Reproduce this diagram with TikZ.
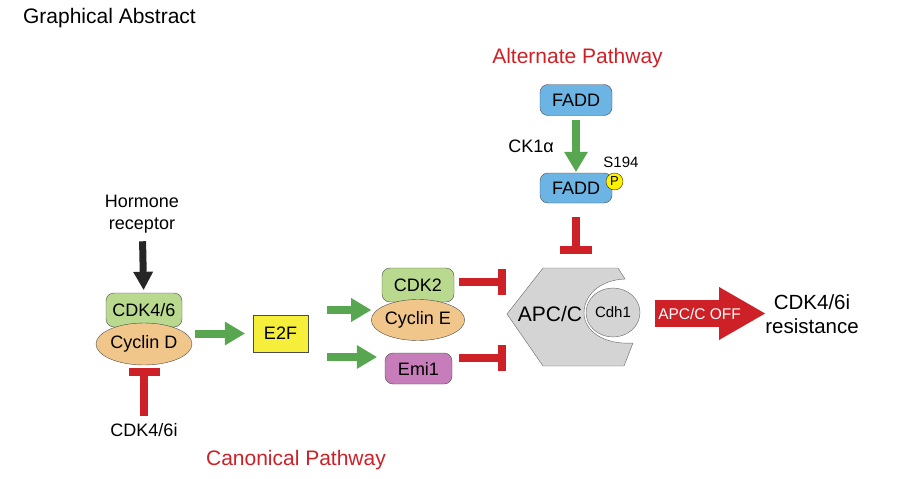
\documentclass[tikz,border=0pt]{standalone}
\usepackage{fontspec}
\setmainfont{Liberation Sans}
\usetikzlibrary{arrows.meta,positioning,calc,shapes.geometric}
\definecolor{inhred}{HTML}{CE2027}
\definecolor{actgreen}{HTML}{58A650}
\definecolor{faddblue}{HTML}{6CB4E4}
\definecolor{cdkgreen}{HTML}{B9D98F}
\definecolor{cycorange}{HTML}{F1C68A}
\definecolor{e2fyellow}{HTML}{F5EE3B}
\definecolor{emipurple}{HTML}{C67DB9}
\definecolor{apcgray}{HTML}{D4D4D4}
\tikzset{
  prot/.style={draw=black!70,rounded corners=8pt,minimum width=72pt,minimum height=31pt,inner sep=0pt,font=\fontsize{18}{22}\selectfont},
  cyc/.style={draw=black!70,ellipse,fill=cycorange,minimum width=94pt,minimum height=42pt,inner sep=0pt,font=\fontsize{18}{22}\selectfont},
  lbl/.style={inner sep=0pt,align=center,font=\fontsize{18}{22}\selectfont},
  head/.style={inner sep=0pt,text=inhred,font=\fontsize{21}{25}\selectfont},
  act/.style={draw=actgreen,line width=8pt,-{Triangle[length=20pt,width=24pt,line width=0pt]}},
  inh/.style={draw=inhred,line width=8pt,-{Rectangle[length=8pt,width=#1,line width=0pt]}},
  inh/.default=26pt
}

\begin{document}
\begin{tikzpicture}[x=1pt,y=-1pt]
\useasboundingbox (0,0) rectangle (900,479);

\node[inner sep=0pt,font=\fontsize{21}{25}\selectfont] (title) at (109.5,18) {Graphical Abstract};

% alternate pathway
\node[head] (althead) at (577.5,58) {Alternate Pathway};
\node[prot,fill=faddblue] (fadd1) at (576,100) {FADD};
\node[prot,fill=faddblue,minimum height=30pt] (fadd2) at (576,188) {FADD};
\node[draw=black!80,circle,fill=yellow,minimum size=17pt,inner sep=0pt,font=\fontsize{13}{14}\selectfont] (phos) at (614.5,181.5) {P};
\node[inner sep=0pt,font=\fontsize{15}{18}\selectfont] (site) at (621,162) {S194};
\node[lbl] (ck1a) at (531,146) {CK1α};

% canonical pathway
\node[lbl] (hormone) at (142,214) {Hormone\\receptor};
\node[prot,fill=cdkgreen,minimum width=76pt,minimum height=34pt] (cdk46) at (144,310) {CDK4/6};
\node[cyc,minimum width=96pt] (cycD) at (144,344) {Cyclin D};
\node[lbl] (cdk46i) at (144,430) {CDK4/6i};
\node[draw=black!70,fill=e2fyellow,minimum width=55pt,minimum height=37pt,inner sep=0pt,font=\fontsize{18}{22}\selectfont] (e2f) at (280.5,333.5) {E2F};
\node[prot,fill=cdkgreen,minimum height=34pt] (cdk2) at (418,285) {CDK2};
\node[cyc,minimum width=92pt,minimum height=41pt] (cycE) at (418,320) {Cyclin E};
\node[prot,fill=emipurple,minimum width=67pt] (emi1) at (418.5,368.5) {Emi1};
\node[head] (canhead) at (296,460) {Canonical Pathway};

% APC/C with Cdh1
\draw[draw=black!60,fill=apcgray] (507,314) -- (543,268) -- (618,268) -- (625,279)
  .. controls (600,280) and (584,295) .. (584,313)
  .. controls (584,331) and (604,345) .. (633,343)
  -- (624,366) -- (543,366) -- cycle;
\node[inner sep=0pt,font=\fontsize{21}{25}\selectfont] (apc) at (550,314) {APC/C};
\node[draw=black!60,ellipse,fill=apcgray,minimum width=54pt,minimum height=49pt,inner sep=0pt,font=\fontsize{15}{18}\selectfont] (cdh1) at (613,312.5) {Cdh1};
\node[lbl,font=\fontsize{20.5}{24}\selectfont] (resist) at (812,314) {CDK4/6i\\resistance};

\coordinate (apctop) at (576,268);
\coordinate (apcin1) at (506,282);
\coordinate (apcin2) at (506,358);
\coordinate (fork1) at (327,310);
\coordinate (fork2) at (327,357);
\coordinate (offin) at (655,313.5);

\draw[draw=black!85,line width=7pt,-{Triangle[length=18pt,width=20pt,line width=0pt]},shorten <=8pt,shorten >=3pt] (hormone) -- (cdk46);
\draw[inh=31pt,shorten <=7pt,shorten >=3pt] (cdk46i) -- (cycD);
\draw[act,shorten <=3pt,shorten >=8pt] (cycD.east |- e2f) -- (e2f);
\draw[act] (fork1) -- (fork1 -| cycE.west);
\draw[act,shorten >=8pt] (fork2) -- (fork2 -| emi1.west);
\draw[act,shorten <=4pt,shorten >=1pt] (fadd1) -- (fadd2);
\draw[inh=32pt,shorten <=14pt,shorten >=14pt] (fadd2) -- (apctop);
\draw[inh,shorten <=5pt] (apcin1 -| cdk2.east) -- (apcin1);
\draw[inh,shorten <=7pt] (apcin2 -| emi1.east) -- (apcin2);
\draw[draw=inhred,line width=27pt,-{Triangle[length=46pt,width=53pt,line width=0pt]}] (offin) -- node[pos=.405,text=white,inner sep=0pt,font=\fontsize{15.5}{18}\selectfont] (off) {APC/C OFF} (offin -| resist.west);

\end{tikzpicture}
\end{document}
